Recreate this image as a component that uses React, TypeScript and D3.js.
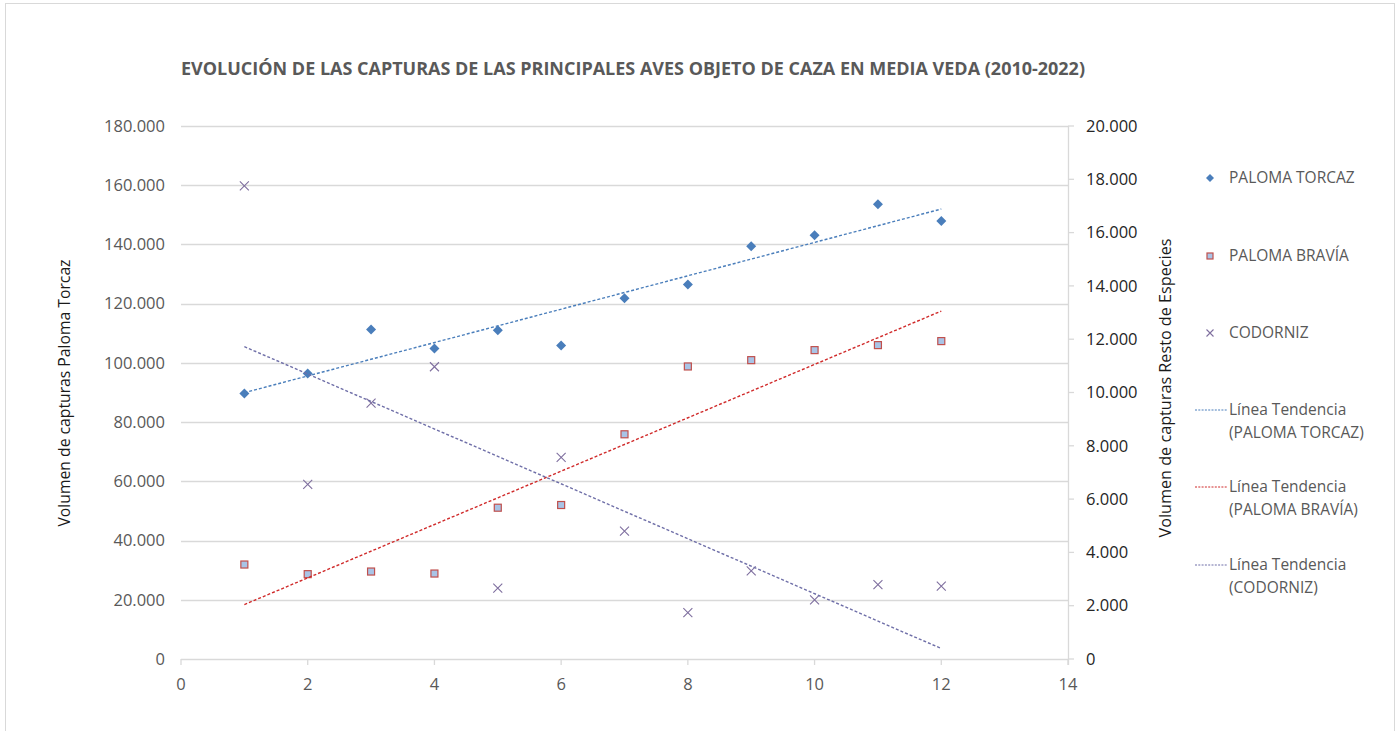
import * as d3 from 'd3';
import React from 'react';

// campañas 1..12 (2010-2022)
const campaigns = [1, 2, 3, 4, 5, 6, 7, 8, 9, 10, 11, 12];
const torcaz = [89700, 96400, 111300, 104900, 111000, 105900, 121800, 126500, 139400, 143100, 153600, 147900];
const bravia = [3545, 3184, 3282, 3207, 5677, 5778, 8432, 10977, 11214, 11590, 11778, 11929];
const codorniz = [17756, 6553, 9598, 10966, 2658, 7568, 4801, 1741, 3308, 2218, 2793, 2733];

const leftTicks = [0, 20000, 40000, 60000, 80000, 100000, 120000, 140000, 160000, 180000];
const rightTicks = [0, 2000, 4000, 6000, 8000, 10000, 12000, 14000, 16000, 18000, 20000];
const xTicks = [0, 2, 4, 6, 8, 10, 12, 14];

const TITLE = 'EVOLUCIÓN DE LAS CAPTURAS DE LAS PRINCIPALES AVES OBJETO DE CAZA EN MEDIA VEDA (2010-2022)';

const C_TORCAZ = '#4a7ebb';
const C_BRAVIA_FILL = '#a9c4e6';
const C_BRAVIA_EDGE = '#c0504d';
const C_BRAVIA_TREND = '#d02a2a';
const C_CODORNIZ = '#7f6f9f';
const C_CODORNIZ_TREND = '#6f6fa8';
const GRID = '#d9d9d9';
const GRAY = '#595959';
const FONT = '"Open Sans", "DejaVu Sans", sans-serif';

const fmt = (v: number) => d3.format(',')(v).replace(/,/g, '.');

// least-squares trend line
const trend = (xs: number[], ys: number[]) => {
  const mx = d3.mean(xs)!;
  const my = d3.mean(ys)!;
  const sxy = d3.sum(xs, (x, i) => (x - mx) * (ys[i] - my));
  const sxx = d3.sum(xs, (x) => (x - mx) ** 2);
  const b = sxy / sxx;
  const a = my - b * mx;
  const x0 = xs[0], x1 = xs[xs.length - 1];
  return [[x0, a + b * x0], [x1, a + b * x1]];
};

export default function App() {
  const width = 1397, height = 731;
  const x = d3.scaleLinear().domain([0, 14]).range([181, 1068]);
  const yL = d3.scaleLinear().domain([0, 180000]).range([659, 126]);
  const yR = d3.scaleLinear().domain([0, 20000]).range([659, 126]);

  const line = (ys: d3.ScaleLinear<number, number>) =>
    d3.line<number[]>().x((d) => x(d[0])).y((d) => ys(d[1]));

  const tTorcaz = trend(campaigns, torcaz);
  const tBravia = trend(campaigns, bravia);
  const tCodorniz = trend(campaigns, codorniz);

  const diamond = (cx: number, cy: number, r: number) =>
    `M${cx},${cy - r}L${cx + r},${cy}L${cx},${cy + r}L${cx - r},${cy}Z`;
  const cross = (cx: number, cy: number, r: number) =>
    `M${cx - r},${cy - r}L${cx + r},${cy + r}M${cx - r},${cy + r}L${cx + r},${cy - r}`;

  const legendX = 1210;
  const textX = 1229;
  const legendItems = [
    { kind: 'diamond', y: 178, lines: ['PALOMA TORCAZ'] },
    { kind: 'square', y: 256, lines: ['PALOMA BRAVÍA'] },
    { kind: 'cross', y: 333, lines: ['CODORNIZ'] },
    { kind: 'trend', color: C_TORCAZ, y: 410, lines: ['Línea Tendencia', '(PALOMA TORCAZ)'] },
    { kind: 'trend', color: C_BRAVIA_TREND, y: 487, lines: ['Línea Tendencia', '(PALOMA BRAVÍA)'] },
    { kind: 'trend', color: C_CODORNIZ_TREND, y: 565, lines: ['Línea Tendencia', '(CODORNIZ)'] },
  ];

  return (
    <svg
      width={width}
      height={height}
      style={{ position: 'absolute', left: 0, top: 0, background: '#fff' }}
      fontFamily={FONT}
    >
      <rect x={5.5} y={3.5} width={1389} height={760} fill="#fff" stroke={GRID} />

      <text
        x={181}
        y={75}
        fontSize={18}
        fontWeight="bold"
        fill={GRAY}
        textLength={904}
        lengthAdjust="spacingAndGlyphs"
      >
        {TITLE}
      </text>

      {/* gridlines (left axis) */}
      {leftTicks.map((t) => (
        <line key={t} x1={x(0)} x2={x(14)} y1={Math.round(yL(t)) + 0.5} y2={Math.round(yL(t)) + 0.5} stroke={GRID} strokeWidth={1.3} />
      ))}
      {leftTicks.map((t) => (
        <text key={t} x={165} y={yL(t)} dy="0.35em" textAnchor="end" fontSize={16.5} fill={GRAY}>
          {fmt(t)}
        </text>
      ))}

      {/* x axis ticks */}
      {xTicks.map((t) => (
        <g key={t}>
          <line x1={x(t)} x2={x(t)} y1={659} y2={665} stroke={GRID} strokeWidth={1.3} />
          <text x={x(t)} y={690} textAnchor="middle" fontSize={16.5} fill={GRAY}>
            {t}
          </text>
        </g>
      ))}

      {/* right axis */}
      <line x1={1068.5} x2={1068.5} y1={126} y2={665} stroke={GRID} strokeWidth={1.3} />
      {rightTicks.map((t) => (
        <g key={t}>
          <line x1={1068} x2={1074} y1={yR(t)} y2={yR(t)} stroke={GRID} strokeWidth={1.3} />
          <text x={1086} y={yR(t)} dy="0.35em" fontSize={16.5} fill="#262626">
            {fmt(t)}
          </text>
        </g>
      ))}

      {/* axis titles */}
      <text
        transform={`translate(70,393) rotate(-90)`}
        textAnchor="middle"
        fontSize={16.5}
        fill="#1a1a1a"
        textLength={267}
        lengthAdjust="spacingAndGlyphs"
      >
        Volumen de capturas Paloma Torcaz
      </text>
      <text
        transform={`translate(1171,388) rotate(-90)`}
        textAnchor="middle"
        fontSize={16.5}
        fill="#1a1a1a"
        textLength={299}
        lengthAdjust="spacingAndGlyphs"
      >
        Volumen de capturas Resto de Especies
      </text>

      {/* markers */}
      {campaigns.map((c, i) => (
        <path key={'t' + c} d={diamond(x(c), yL(torcaz[i]), 5)} fill={C_TORCAZ} />
      ))}
      {campaigns.map((c, i) => (
        <rect
          key={'b' + c}
          x={x(c) - 3.5}
          y={yR(bravia[i]) - 3.5}
          width={7}
          height={7}
          fill={C_BRAVIA_FILL}
          stroke={C_BRAVIA_EDGE}
          strokeWidth={1.2}
        />
      ))}
      {campaigns.map((c, i) => (
        <path key={'c' + c} d={cross(x(c), yR(codorniz[i]), 4.5)} stroke={C_CODORNIZ} strokeWidth={1.1} fill="none" />
      ))}

      {/* trend lines */}
      <path d={line(yL)(tTorcaz)!} stroke={C_TORCAZ} strokeWidth={1.4} strokeDasharray="3,2" fill="none" />
      <path d={line(yR)(tBravia)!} stroke={C_BRAVIA_TREND} strokeWidth={1.4} strokeDasharray="3,2" fill="none" />
      <path d={line(yR)(tCodorniz)!} stroke={C_CODORNIZ_TREND} strokeWidth={1.4} strokeDasharray="3,2" fill="none" />

      {/* legend */}
      {legendItems.map((it, k) => (
        <g key={k}>
          {it.kind === 'diamond' && <path d={diamond(legendX, it.y, 4)} fill={C_TORCAZ} />}
          {it.kind === 'square' && (
            <rect x={legendX - 3} y={it.y - 3} width={6} height={6} fill={C_BRAVIA_FILL} stroke={C_BRAVIA_EDGE} strokeWidth={1.2} />
          )}
          {it.kind === 'cross' && <path d={cross(legendX, it.y, 3.5)} stroke={C_CODORNIZ} strokeWidth={1.1} fill="none" />}
          {it.kind === 'trend' && (
            <line x1={1195} x2={1227} y1={it.y} y2={it.y} stroke={it.color} strokeWidth={1.2} strokeDasharray="2,1.3" />
          )}
          {it.lines.map((l, j) => (
            <text key={j} x={textX} y={it.y + j * 22.5} dy="0.35em" fontSize={15.5} fill={GRAY}>
              {l}
            </text>
          ))}
        </g>
      ))}
    </svg>
  );
}
